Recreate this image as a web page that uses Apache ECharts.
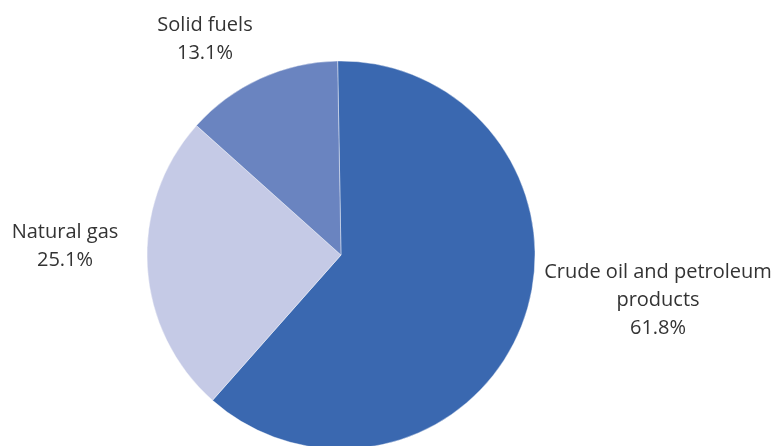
<!DOCTYPE html>
<html>
<head>
<meta charset="utf-8">
<script src="https://cdn.jsdelivr.net/npm/echarts@6/dist/echarts.min.js"></script>
<style>
  html, body { margin: 0; padding: 0; background: #fff; }
  #chart { width: 776px; height: 446px; }
</style>
</head>
<body>
<div id="chart"></div>
<script>
// Energy mix shares (%)
const categories = ['Crude oil and petroleum\nproducts', 'Natural gas', 'Solid fuels'];
const shares = [61.8, 25.1, 13.1];
const sliceColors = ['#3a68b0', '#c5cae6', '#6a84c0'];

// Label anchor points (centre of each text block), in pixels
const labelAnchors = [
  [658, 300],
  [65, 246],
  [205, 39]
];

const chart = echarts.init(document.getElementById('chart'), null, { renderer: 'canvas' });

chart.setOption({
  animation: false,
  backgroundColor: '#ffffff',
  series: [{
    type: 'pie',
    center: [341, 255],
    radius: [0, 194],
    startAngle: 91,
    clockwise: true,
    avoidLabelOverlap: false,
    itemStyle: { borderColor: '#ffffff', borderWidth: 0.4 },
    label: {
      show: true,
      position: 'outside',
      formatter: p => p.name + '\n' + p.value.toFixed(1) + '%',
      fontFamily: '"Open Sans", "Noto Sans", sans-serif',
      fontSize: 20,
      lineHeight: 28,
      color: '#333333',
      align: 'center'
    },
    labelLine: { show: false },
    labelLayout: params => ({
      x: labelAnchors[params.dataIndex][0],
      y: labelAnchors[params.dataIndex][1],
      align: 'center',
      verticalAlign: 'middle'
    }),
    emphasis: { disabled: true },
    data: categories.map((name, i) => ({
      name: name,
      value: shares[i],
      itemStyle: { color: sliceColors[i] }
    }))
  }]
});
</script>
</body>
</html>
